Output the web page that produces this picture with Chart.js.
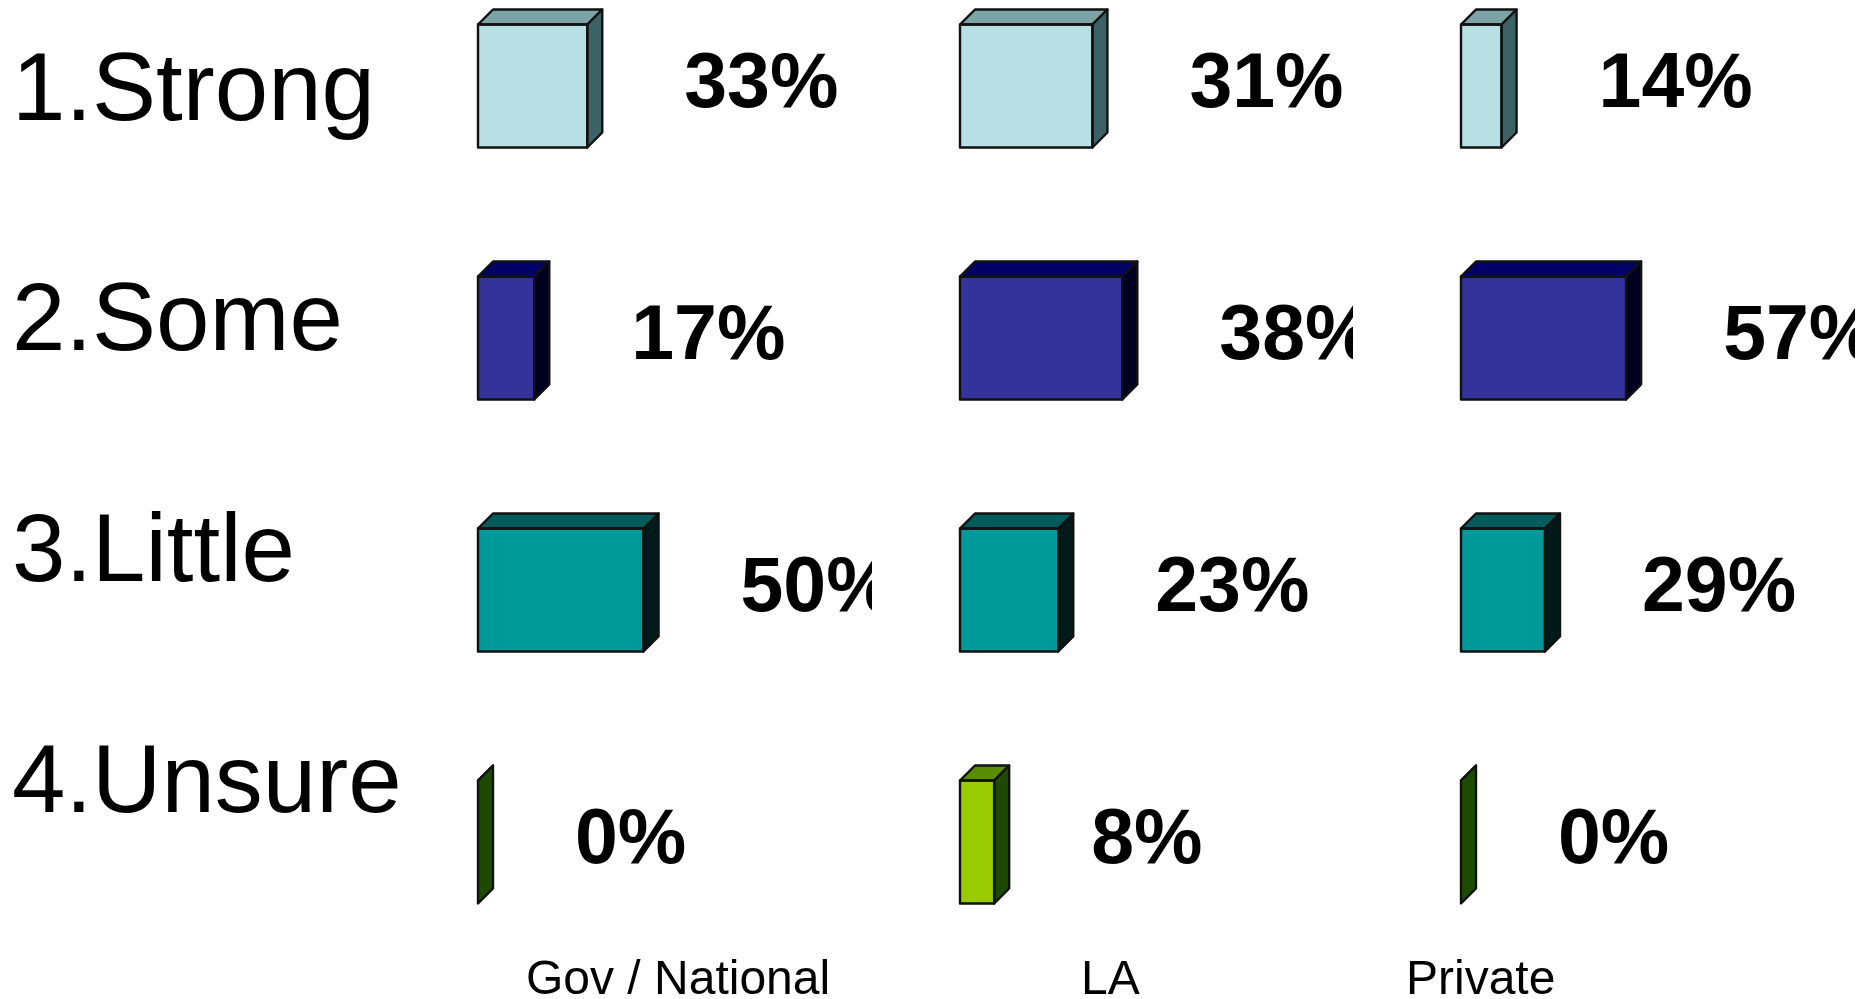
<!DOCTYPE html>
<html>
<head>
<meta charset="utf-8">
<script src="https://cdn.jsdelivr.net/npm/chart.js@4.4.1/dist/chart.umd.min.js"></script>
<style>
  html, body { margin: 0; padding: 0; background: #fff; }
  body { width: 1860px; height: 999px; position: relative; overflow: hidden;
         font-family: "Liberation Sans", Arial, sans-serif; color: #000; }
  canvas { position: absolute; top: -40px; }
  .row-label { position: absolute; left: 12px; font-size: 96px; line-height: 96px; white-space: nowrap; }
  .caption { position: absolute; top: 954px; font-size: 48px; line-height: 48px; white-space: nowrap; }
</style>
</head>
<body>
<canvas id="gov" width="402" height="1008" style="left:470px"></canvas>
<canvas id="la" width="401" height="1008" style="left:952px"></canvas>
<canvas id="private" width="402" height="1008" style="left:1453px"></canvas>

<script>
// 응답 분류 (행) 과 기관 유형 (패널)
const CATEGORIES = ['1.Strong', '2.Some', '3.Little', '4.Unsure'];
const PANELS     = ['Gov / National', 'LA', 'Private'];

// 패널별 응답 비율 (%)
const GOV_VALUES     = [33, 17, 50, 0];
const LA_VALUES      = [31, 38, 23, 8];
const PRIVATE_VALUES = [14, 57, 29, 0];

// 패널마다 x축 범위가 다름
const AXIS_MAX = [119, 92, 136];

// 박스 앞면 / 윗면 / 옆면 색
const FRONT_COLORS = ['#b8e0e4', '#333399', '#009999', '#99cc00'];
const TOP_COLORS   = ['#7ca3a6', '#000066', '#005c5c', '#5a8c00'];
const SIDE_COLORS  = ['#3d6266', '#000020', '#001a1a', '#1e4a00'];
const EDGE_COLOR   = '#111111';
const DEPTH        = 15;

const FONT = '"Liberation Sans", Arial, sans-serif';

/** 막대를 3D 박스처럼 보이게 윗면과 옆면을 그림 */
const boxFaces = {
  id: 'boxFaces',
  afterDatasetsDraw(chart) {
    const { ctx } = chart;
    chart.getDatasetMeta(0).data.forEach((bar, i) => {
      const { x, y, base, height } = bar.getProps(['x', 'y', 'base', 'height'], true);
      const top = y - height / 2;
      const bottom = y + height / 2;
      ctx.save();
      ctx.lineWidth = 2.4;
      ctx.lineJoin = 'round';
      ctx.strokeStyle = EDGE_COLOR;

      ctx.beginPath();
      ctx.moveTo(base, top);
      ctx.lineTo(base + DEPTH, top - DEPTH);
      ctx.lineTo(x + DEPTH, top - DEPTH);
      ctx.lineTo(x, top);
      ctx.closePath();
      ctx.fillStyle = TOP_COLORS[i];
      ctx.fill();
      ctx.stroke();

      ctx.beginPath();
      ctx.moveTo(x, top);
      ctx.lineTo(x + DEPTH, top - DEPTH);
      ctx.lineTo(x + DEPTH, bottom - DEPTH);
      ctx.lineTo(x, bottom);
      ctx.closePath();
      ctx.fillStyle = SIDE_COLORS[i];
      ctx.fill();
      ctx.stroke();

      if (x - base > 0) ctx.strokeRect(base, top, x - base, height);
      ctx.restore();
    });
  },
};

/** 막대 오른쪽에 퍼센트 값 표시 (패널 밖으로 나가면 잘림) */
const valueLabels = {
  id: 'valueLabels',
  afterDatasetsDraw(chart) {
    const { ctx } = chart;
    const values = chart.data.datasets[0].data;
    ctx.save();
    ctx.font = `bold 77px ${FONT}`;
    ctx.fillStyle = '#000';
    ctx.textAlign = 'left';
    ctx.textBaseline = 'alphabetic';
    chart.getDatasetMeta(0).data.forEach((bar, i) => {
      ctx.fillText(`${values[i]}%`, bar.x + 97, bar.y + 21);
    });
    ctx.restore();
  },
};

function initPanel(canvasId, values, axisMax) {
  const canvas = document.getElementById(canvasId);
  return new Chart(canvas, {
    type: 'bar',
    data: {
      labels: CATEGORIES,
      datasets: [{
        data: values,
        backgroundColor: FRONT_COLORS,
        borderWidth: 0,
        barPercentage: 123 / 252,
        categoryPercentage: 1,
      }],
    },
    options: {
      indexAxis: 'y',
      responsive: false,
      animation: false,
      layout: { padding: { left: 8, right: 0, top: 0, bottom: 0 } },
      plugins: {
        legend: { display: false },
        tooltip: { enabled: false },
      },
      scales: {
        x: { display: false, min: 0, max: axisMax },
        y: { display: false },
      },
    },
    plugins: [boxFaces, valueLabels],
  });
}

initPanel('gov', GOV_VALUES, AXIS_MAX[0]);
initPanel('la', LA_VALUES, AXIS_MAX[1]);
initPanel('private', PRIVATE_VALUES, AXIS_MAX[2]);

// 왼쪽 행 라벨
CATEGORIES.forEach((label, i) => {
  const el = document.createElement('div');
  el.className = 'row-label';
  el.textContent = label;
  el.style.top = `${38.7 + i * 230.67}px`;
  document.body.appendChild(el);
});

// 하단 패널 이름
const CAPTION_LEFT = [526, 1081, 1406];
PANELS.forEach((name, i) => {
  const el = document.createElement('div');
  el.className = 'caption';
  el.textContent = name;
  el.style.left = `${CAPTION_LEFT[i]}px`;
  document.body.appendChild(el);
});
</script>
</body>
</html>
